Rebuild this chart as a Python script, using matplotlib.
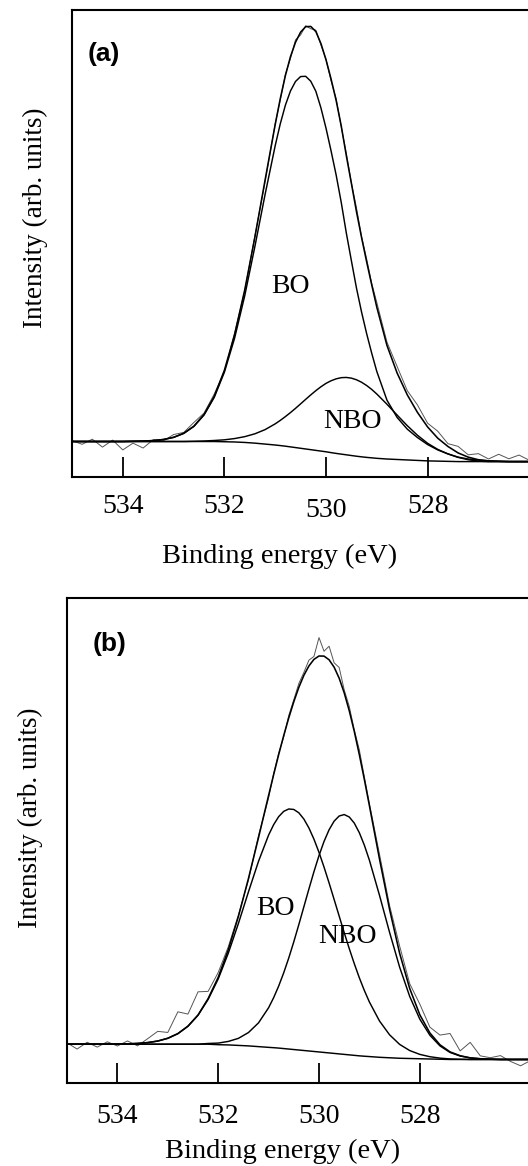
import numpy as np
import matplotlib
matplotlib.use("Agg")
import matplotlib.pyplot as plt
from matplotlib.transforms import ScaledTranslation

# O 1s XPS spectra, two samples; intensity in arbitrary units (0-100 axis)
# finer steps around the peaks
energy = [535.0, 534.8, 534.6, 534.4, 534.2, 534.0, 533.8, 533.6, 533.4, 533.2,
          533.0, 532.8, 532.6, 532.4, 532.2, 532.0, 531.8, 531.6, 531.4, 531.2,
          531.0, 530.9, 530.8, 530.7, 530.6, 530.5, 530.4, 530.3, 530.2, 530.1,
          530.0, 529.9, 529.8, 529.7, 529.6, 529.5, 529.4, 529.3, 529.2, 529.1,
          529.0, 528.8, 528.6, 528.4, 528.2, 528.0, 527.8, 527.6, 527.4, 527.2,
          527.0, 526.8, 526.6, 526.4, 526.2, 526.0, 525.8, 525.6, 525.4, 525.2,
          525.0]

# panel (a): background, BO and NBO heights above background, residual of the data
a_bg = [7.6, 7.6, 7.6, 7.6, 7.6, 7.6, 7.6, 7.6, 7.6, 7.6,
        7.6, 7.6, 7.6, 7.6, 7.6, 7.55, 7.5, 7.4, 7.25, 7.05,
        6.85, 6.73, 6.6, 6.45, 6.3, 6.15, 6.0, 5.85, 5.7, 5.55,
        5.4, 5.22, 5.05, 4.9, 4.75, 4.6, 4.45, 4.32, 4.2, 4.1,
        4.0, 3.85, 3.75, 3.65, 3.55, 3.45, 3.4, 3.35, 3.3, 3.3,
        3.3, 3.3, 3.3, 3.3, 3.3, 3.3, 3.3, 3.3, 3.3, 3.3,
        3.3]
a_bo = [0, 0, 0, 0, 0, 0, 0.05, 0.1, 0.2, 0.43,
        0.89, 1.75, 3.24, 5.69, 9.45, 14.9, 22.2, 31.4, 42.1, 53.4,
        64.1, 68.9, 73.0, 76.2, 78.4, 79.6, 79.8, 78.9, 76.9, 73.5,
        69.3, 64.6, 59.6, 53.9, 47.5, 41.7, 36.0, 31.0, 26.5, 22.4,
        18.6, 12.6, 9.0, 6.6, 4.9, 3.5, 2.4, 1.6, 0.9, 0.4,
        0.1, 0, 0, 0, 0, 0, 0, 0, 0, 0,
        0]
a_nbo = [0, 0, 0, 0, 0, 0, 0, 0, 0, 0,
         0, 0, 0.05, 0.11, 0.22, 0.41, 0.73, 1.24, 2.0, 3.09,
         4.53, 5.39, 6.33, 7.34, 8.4, 9.51, 10.63, 11.73, 12.79, 13.77,
         14.65, 15.39, 15.97, 16.37, 16.57, 16.57, 16.37, 15.97, 15.39, 14.65,
         13.77, 11.73, 9.51, 7.34, 5.39, 3.77, 2.51, 1.59, 0.96, 0.55,
         0.3, 0.16, 0.07, 0, 0, 0, 0, 0, 0, 0,
         0]
a_noise = [0.2, -0.6, 0.5, -1.2, 0.3, -1.8, -0.4, -1.5, 0.2, -0.3,
           0.6, 0.2, 0.8, 0.3, 0.5, -0.3, 0.4, -0.2, 0.3, -0.4,
           0.2, -0.3, 0.3, -0.4, 0.5, -0.6, 0.2, -0.5, 0.3, -0.3,
           0.1, -0.4, 0.4, -0.2, 0.5, 0.1, 0.8, 0.2, 0.6, 0.3,
           1.0, 0.7, 1.4, 0.9, 1.6, 0.8, 1.5, 0.6, 1.4, 0.5,
           1.3, 0.4, 1.5, 0.6, 1.4, 0.3, 1.2, 0.5, 1.3, 0.4,
           1.0]

# panel (b)
b_bg = [8.0, 8.0, 8.0, 8.0, 8.0, 8.0, 8.0, 8.0, 8.0, 8.0,
        8.0, 8.0, 8.0, 8.0, 8.0, 7.9, 7.85, 7.75, 7.65, 7.5,
        7.35, 7.28, 7.2, 7.1, 7.0, 6.9, 6.8, 6.7, 6.6, 6.5,
        6.4, 6.3, 6.2, 6.1, 6.0, 5.9, 5.8, 5.7, 5.6, 5.52,
        5.45, 5.3, 5.2, 5.1, 5.05, 5.0, 4.95, 4.9, 4.85, 4.85,
        4.85, 4.85, 4.85, 4.85, 4.85, 4.85, 4.85, 4.85, 4.85, 4.85,
        4.85]
b_bo = [0, 0, 0, 0, 0, 0.03, 0.07, 0.16, 0.33, 0.65,
        1.22, 2.18, 3.71, 6.0, 9.24, 13.55, 18.91, 25.11, 31.75, 38.21,
        43.77, 45.98, 47.72, 48.91, 49.5, 49.5, 48.91, 47.72, 45.98, 43.77,
        41.15, 38.21, 35.05, 31.75, 28.42, 25.11, 21.92, 18.91, 16.1, 13.55,
        11.25, 7.49, 4.74, 2.86, 1.64, 0.9, 0.47, 0.23, 0.11, 0.05,
        0, 0, 0, 0, 0, 0, 0, 0, 0, 0,
        0]
b_nbo = [0, 0, 0, 0, 0, 0, 0, 0, 0, 0,
         0, 0, 0, 0, 0.15, 0.33, 0.72, 1.45, 2.75, 4.9,
         8.17, 10.31, 12.79, 15.63, 18.78, 22.22, 25.87, 29.64, 33.41, 37.08,
         40.49, 43.51, 46.01, 47.89, 49.05, 49.45, 49.05, 47.89, 46.01, 43.51,
         40.49, 33.41, 25.87, 18.78, 12.79, 8.17, 4.9, 2.75, 1.45, 0.72,
         0.33, 0.15, 0.06, 0, 0, 0, 0, 0, 0, 0,
         0]
b_noise = [0.3, -1.0, 0.4, -0.6, 0.5, -0.4, 0.6, -0.5, 0.8, 2.0,
           1.2, 4.5, 2.5, 4.8, 1.5, 1.0, 0.6, 0.3, -0.3, 0.4,
           -0.5, 0.2, 0.3, -0.3, 0.5, 0.4, 0.8, 0.6, 1.2, 0.6,
           3.8, 1.0, 2.8, 0.9, 2.2, 0.6, 0.9, 0.3, 1.0, 0.5,
           0.4, 1.0, 0.8, 1.5, 1.0, 2.2, 1.2, 2.0, 3.8, 1.0,
           3.2, 0.6, 0.3, 0.8, -0.4, -1.3, -0.2, 0.5, -0.3, 0.4,
           -0.2]

tick_pos = [534, 532, 530, 528]
tick_labels = ["534", "532", "530", "528"]

SERIF = "Liberation Serif"
SANS = "Liberation Sans"

fig = plt.figure(figsize=(5.28, 11.66), dpi=100)
W, H = 528.0, 1166.0


def make_axes(left, top, right, bottom):
    return fig.add_axes([left / W, 1 - bottom / H, (right - left) / W, (bottom - top) / H])


def draw_panel(ax, bg, bo, nbo, noise, tag, tag_xy, bo_xy, nbo_xy, xlab_xy, ylab_xy, pad):
    x = np.array(energy)
    bg = np.array(bg)
    bo_line = bg + np.array(bo)
    nbo_line = bg + np.array(nbo)
    env = bg + np.array(bo) + np.array(nbo)
    meas = env + np.array(noise)

    ax.plot(x, meas, color="#555555", lw=0.7)
    for y in (bg, bo_line, nbo_line):
        ax.plot(x, y, color="black", lw=1.05)
    ax.plot(x, env, color="black", lw=1.15)

    ax.set_xlim(535, 525)
    ax.set_ylim(0, 100)
    ax.set_yticks([])
    ax.set_xticks(tick_pos)
    ax.set_xticklabels(tick_labels, fontfamily=SERIF, fontsize=20)
    ax.tick_params(axis="x", direction="in", length=14.5, width=1.3, pad=pad, top=False)
    for s in ax.spines.values():
        s.set_linewidth(1.5)

    ax.text(*tag_xy, tag, transform=ax.transAxes, fontfamily=SANS, fontweight="bold",
            fontsize=19, ha="left", va="top")
    ax.text(*bo_xy, "BO", fontfamily=SERIF, fontsize=20, ha="center", va="baseline")
    ax.text(*nbo_xy, "NBO", fontfamily=SERIF, fontsize=20, ha="center", va="baseline")
    ax.text(*xlab_xy, "Binding energy (eV)", transform=ax.transAxes, fontfamily=SERIF,
            fontsize=20.5, ha="center", va="baseline", clip_on=False)
    ax.text(*ylab_xy, "Intensity (arb. units)", transform=ax.transAxes, fontfamily=SERIF,
            fontsize=19.5, ha="center", va="center", rotation=90, clip_on=False)


ax_a = make_axes(72, 10, 580, 477)
draw_panel(ax_a, a_bg, a_bo, a_nbo, a_noise, "(a)", (0.0315, 0.931),
           (530.70, 39.5), (529.47, 10.4), (0.409, -0.184), (-0.072, 0.556), 12.5)
# the "530" label of panel (a) sits a little lower
lab = ax_a.get_xticklabels()[2]
lab.set_transform(lab.get_transform() + ScaledTranslation(0, -4 / 100, fig.dpi_scale_trans))

ax_b = make_axes(67, 598, 571, 1083)
draw_panel(ax_b, b_bg, b_bo, b_nbo, b_noise, "(b)", (0.0516, 0.93),
           (530.86, 34.6), (529.44, 28.9), (0.4276, -0.155), (-0.073, 0.546), 15)

fig.savefig("out.png", dpi=100)
